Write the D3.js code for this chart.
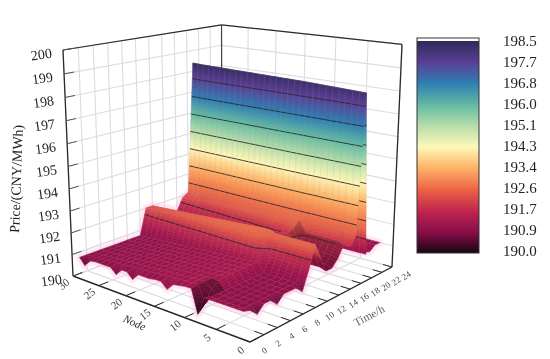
<!DOCTYPE html>
<html>
<head>
<meta charset="utf-8">
<script src="https://cdn.jsdelivr.net/npm/d3@7"></script>
<style>
  html, body { margin: 0; padding: 0; background: #fff; }
  svg { display: block; filter: blur(0.45px); }
  text { font-family: "Liberation Serif", serif; }
</style>
</head>
<body>
<div id="chart"></div>
<script>
const nodes = [1,2,3,4,5,6,7,8,9,10,11,12,13,14,15,16,17,18,19,20,21,22,23,24,25,26,27,28,29,30];
const times = [1,2,3,4,5,6,7,8,9,10,11,12,13,14,15,16,17,18,19,20,21,22,23,24];

// price by hour for each group of nodes, hour 19 comes from wallTop
const pricesEdge  = [190.9,190.8,190.5,190.8,190.8,190.5,190.8,190.8,190.8,190.5,191.3,192.3,191.6,190.9,190.9,191.2,191.7,192.1,198.2,191.0,190.9,190.8,191.0,191.0];
const pricesNear  = [190.8,190.8,190.8,190.8,190.8,190.8,190.8,190.8,190.8,190.8,191.4,192.3,191.7,191.0,191.0,191.3,191.8,192.2,198.2,191.0,191.0,191.0,191.0,191.0];
const pricesNode9 = [190.1,190.4,190.9,191.1,191.2,191.2,191.2,191.2,191.2,191.2,191.8,192.4,192.0,191.9,191.9,192.0,192.3,192.4,198.3,191.0,191.0,191.0,191.0,191.0];
const pricesFar   = [191.15,191.15,191.15,191.15,191.15,191.15,191.15,191.15,191.15,191.15,192.4,192.4,191.7,191.4,191.4,191.7,192.3,192.5,198.4,191.0,191.0,191.0,191.0,191.0];
// the far nodes sit a little lower with distance, node 10 up to node 30
const farOffset = [0,-.02,-.04,-.06,-.08,-.1,-.12,-.14,-.16,-.18,-.2,-.22,-.24,-.26,-.28,-.3,-.32,-.34,-.36,-.38,-.4];
const wallTop = [198.2,198.21,198.22,198.23,198.24,198.25,198.26,198.27,198.28,198.29,198.3,198.3,198.31,198.31,198.32,198.32,198.33,198.33,198.34,198.34,198.35,198.35,198.36,198.36,198.37,198.37,198.38,198.38,198.39,198.4];
// hour 1 row, it has the small dark nicks along the front edge
const frontRow = [190.9,190.9,190.9,190.9,190.9,190.9,190.9,190.9,190.1,191.1,191.1,191.05,191.0,190.7,190.95,190.95,190.9,190.9,190.9,190.6,190.85,190.85,190.55,190.8,190.8,190.8,190.8,190.75,190.45,190.75];

const nodeTicks = [0,5,10,15,20,25,30];
const timeTicks = [0,2,4,6,8,10,12,14,16,18,20,22,24];
const priceTicks = [190,191,192,193,194,195,196,197,198,199,200];
const legendTicks = ["198.5","197.7","196.8","196.0","195.1","194.3","193.4","192.6","191.7","190.9","190.0"];
const legendColors = ["#2e2a5a","#5a3f94","#2f7fb3","#62b9a3","#b6deaa","#fdf8b8","#fdb266","#ef6445","#c0264e","#8a0d48","#1a0616"];
// the surface reads a bit brighter than the bar in its low range
const surfaceLevels = [198.5,197.7,196.8,196.0,195.1,194.3,193.4,192.6,192.1,191.7,191.1,190.8,190.0];
const surfaceColors = ["#2e2a5a","#5a3f94","#2f7fb3","#62b9a3","#b6deaa","#fdf8b8","#fdb266","#f07a4c","#e2604a","#c4304e","#a0154b","#8f1148","#1f0a1e"];
const contourLevels = [191.7,192.55,193.4,194.25,195.1,195.95,196.8,197.65];

const width = 550, height = 359;

const svg = d3.select("#chart").append("svg")
    .attr("width", width)
    .attr("height", height);

const color = d3.scaleLinear().domain(surfaceLevels).range(surfaceColors).clamp(true);

// axis box seen in perspective, worked out from the corners of the box on screen
const nodeScale = d3.scaleLinear().domain([0, 30]).range([0, 1]);
const timeScale = d3.scaleLinear().domain([0, 24]).range([0, 1]);
const priceScale = d3.scaleLinear().domain([190, 200]).range([0, 1]);

const B = [250, 342], A = [73, 276], C = [392, 267], D = [222, 220], Atop = [63, 50];
const det = (A[0]-D[0])*(C[1]-D[1]) - (C[0]-D[0])*(A[1]-D[1]);
const rx = D[0]+B[0]-A[0]-C[0], ry = D[1]+B[1]-A[1]-C[1];
const wa = (rx*(C[1]-D[1]) - (C[0]-D[0])*ry) / det;
const wb = ((A[0]-D[0])*ry - rx*(A[1]-D[1])) / det;
const wc = -0.07;
const basis = [0, 1].map(i => ({
    o: B[i],
    u: A[i]*(1+wa) - B[i],
    v: C[i]*(1+wb) - B[i],
    z: Atop[i]*(1+wa+wc) - A[i]*(1+wa)
}));

const project = (node, time, price) => {
    let u = nodeScale(node), v = timeScale(time), z = priceScale(price);
    let w = 1 + wa*u + wb*v + wc*z;
    return basis.map(b => (b.o + b.u*u + b.v*v + b.z*z) / w);
};

const line3 = (g, p, q, stroke, sw) => {
    let a = project(...p), b = project(...q);
    g.append("line")
        .attr("x1", a[0]).attr("y1", a[1])
        .attr("x2", b[0]).attr("y2", b[1])
        .attr("stroke", stroke)
        .attr("stroke-width", sw);
};

// walls and floor
const grid = svg.append("g");
const gridColor = "#dcdcdc";
timeTicks.forEach(t => {
    line3(grid, [30, t, 190], [30, t, 200], gridColor, 1.1);
    line3(grid, [0, t, 190], [30, t, 190], gridColor, 1.1);
});
nodeTicks.forEach(n => {
    line3(grid, [n, 24, 190], [n, 24, 200], gridColor, 1.1);
    line3(grid, [n, 0, 190], [n, 24, 190], gridColor, 1.1);
});
priceTicks.forEach(p => {
    line3(grid, [30, 0, p], [30, 24, p], gridColor, 1.1);
    line3(grid, [0, 24, p], [30, 24, p], gridColor, 1.1);
});

const axes = svg.append("g");
const axisColor = "#2b2b2b";
line3(axes, [30, 0, 190], [30, 0, 200], axisColor, 1.3);
line3(axes, [30, 24, 190], [30, 24, 200], "#444", 1.2);
line3(axes, [0, 24, 190], [0, 24, 200], axisColor, 1.3);
line3(axes, [30, 0, 200], [30, 24, 200], axisColor, 1.2);
line3(axes, [0, 24, 200], [30, 24, 200], axisColor, 1.2);
line3(axes, [0, 0, 190], [30, 0, 190], axisColor, 1.4);
line3(axes, [0, 0, 190], [0, 24, 190], axisColor, 1.4);
nodeTicks.forEach(n => line3(axes, [n, 0, 190], [n, 1.3, 190], axisColor, 1));
timeTicks.forEach(t => line3(axes, [0, t, 190], [1.4, t, 190], axisColor, 1));
priceTicks.forEach(p => line3(axes, [30, 0, p], [30, 1.3, p], "#555", 1));

// surface values
const profileFor = n => n <= 2 ? pricesEdge : n <= 8 ? pricesNear : n === 9 ? pricesNode9 : pricesFar;
const priceAt = (n, t) => {
    if (t === 1) return frontRow[n-1];
    if (t === 19) return wallTop[n-1];
    if (n >= 10 && t < 19) return pricesFar[t-1] + farOffset[n-10];
    return profileFor(n)[t-1];
};
// node 1 only shows up at the foot and top of the tall wall
const cellShown = (n, t) => n > 1 || (t >= 17 && t <= 19);

const cellPath = (n, t) => {
    let pts = [[n, t], [n+1, t], [n+1, t+1], [n, t+1]].map(d => project(d[0], d[1], priceAt(d[0], d[1])));
    return d3.line()(pts) + "Z";
};

// pink fringe around the low part of the surface
const defs = svg.append("defs");
defs.append("filter").attr("id", "fringe")
    .attr("x", "-10%").attr("y", "-10%").attr("width", "120%").attr("height", "120%")
    .append("feGaussianBlur").attr("stdDeviation", 1.3);
const fringe = svg.append("g").attr("filter", "url(#fringe)").attr("opacity", 0.4);
nodes.slice(0, -1).forEach(n => {
    times.slice(0, -1).forEach(t => {
        let m = (priceAt(n, t) + priceAt(n+1, t) + priceAt(n+1, t+1) + priceAt(n, t+1)) / 4;
        if (m < 193.5 && cellShown(n, t)) {
            fringe.append("path")
                .attr("d", cellPath(n, t))
                .attr("fill", "#ffb6e6")
                .attr("stroke", "#ffb6e6")
                .attr("stroke-width", 7)
                .attr("stroke-linejoin", "round");
        }
    });
});

// surface, far cells first
const surface = svg.append("g");

const drawCell = (n, t) => {
    let p00 = priceAt(n, t), p10 = priceAt(n+1, t), p11 = priceAt(n+1, t+1), p01 = priceAt(n, t+1);
    let bil = (a, b) => p00*(1-a)*(1-b) + p10*a*(1-b) + p11*a*b + p01*(1-a)*b;
    let kn = Math.max(1, Math.ceil(Math.max(Math.abs(p10-p00), Math.abs(p11-p01)) / 0.12));
    let kt = Math.max(1, Math.ceil(Math.max(Math.abs(p01-p00), Math.abs(p11-p10)) / 0.12));
    // the trough on the near nodes and the nick at node 9 are in shadow
    let trough = n <= 8 && t >= 13 && t <= 16;
    let wedge = n >= 8 && n <= 9 && t <= 3;
    let shadow = trough ? 0.7 : wedge ? 1.1 : 0;
    for (let i = kn-1; i >= 0; i--) {
        for (let j = kt-1; j >= 0; j--) {
            let corners = [[i/kn, j/kt], [(i+1)/kn, j/kt], [(i+1)/kn, (j+1)/kt], [i/kn, (j+1)/kt]];
            let pts = corners.map(c => project(n+c[0], t+c[1], bil(c[0], c[1])));
            let fill = d3.color(color(bil((i+.5)/kn, (j+.5)/kt))).darker(shadow).formatHex();
            surface.append("path")
                .attr("d", d3.line()(pts) + "Z")
                .attr("fill", fill)
                .attr("stroke", fill)
                .attr("stroke-width", 0.5);
        }
    }
    // mesh
    surface.append("path")
        .attr("d", cellPath(n, t))
        .attr("fill", "none")
        .attr("stroke", "#c9808f")
        .attr("stroke-opacity", 0.22)
        .attr("stroke-width", 0.6);
    // contour lines crossing this cell
    contourLevels.forEach(level => {
        let edges = [[0,0,1,0,p00,p10],[1,0,1,1,p10,p11],[1,1,0,1,p11,p01],[0,1,0,0,p01,p00]];
        let hits = [];
        edges.forEach(e => {
            if ((e[4] - level) * (e[5] - level) < 0) {
                let f = (level - e[4]) / (e[5] - e[4]);
                hits.push(project(n + e[0] + (e[2]-e[0])*f, t + e[1] + (e[3]-e[1])*f, level));
            }
        });
        if (hits.length >= 2) {
            surface.append("path")
                .attr("d", d3.line()(hits.slice(0, 2)))
                .attr("fill", "none")
                .attr("stroke", "#2a2a2a")
                .attr("stroke-opacity", 0.9)
                .attr("stroke-width", 1);
        }
    });
};

nodes.slice(0, -1).reverse().forEach(n => {
    times.slice(0, -1).reverse().forEach(t => {
        if (cellShown(n, t)) drawCell(n, t);
    });
});

// tick labels
const labels = svg.append("g");
priceTicks.forEach(p => {
    let q = project(30, 0, p);
    labels.append("text")
        .attr("transform", `translate(${q[0]-21},${q[1]+9}) rotate(-8)`)
        .attr("text-anchor", "middle")
        .attr("font-size", 14)
        .attr("fill", "#222")
        .text(p);
});
nodeTicks.forEach(n => {
    let q = project(n, 0, 190);
    labels.append("text")
        .attr("transform", `translate(${q[0]-7},${q[1]+11}) rotate(-38)`)
        .attr("text-anchor", "middle")
        .attr("font-size", 11)
        .attr("fill", "#444")
        .text(n);
});
timeTicks.forEach(t => {
    let q = project(0, t, 190);
    labels.append("text")
        .attr("transform", `translate(${q[0]+16},${q[1]+11}) rotate(-35)`)
        .attr("text-anchor", "middle")
        .attr("font-size", 9)
        .attr("fill", "#444")
        .text(t);
});
labels.append("text")
    .attr("transform", "translate(21,179) rotate(-88)")
    .attr("text-anchor", "middle")
    .attr("font-size", 14)
    .attr("fill", "#222")
    .text("Price/(CNY/MWh)");
labels.append("text")
    .attr("transform", "translate(133,326) rotate(24)")
    .attr("text-anchor", "middle")
    .attr("font-size", 11)
    .attr("font-style", "italic")
    .attr("fill", "#222")
    .text("Node");
labels.append("text")
    .attr("transform", "translate(371,319) rotate(-28)")
    .attr("text-anchor", "middle")
    .attr("font-size", 11.5)
    .attr("fill", "#666")
    .text("Time/h");

// colour bar, ticks evenly spaced
const barX = 417, barW = 62;
const barY = d3.scalePoint().domain(legendTicks).range([41, 251]);
const gradient = defs.append("linearGradient")
    .attr("id", "bar").attr("x1", 0).attr("y1", 0).attr("x2", 0).attr("y2", 1);
legendTicks.forEach((v, i) => {
    gradient.append("stop")
        .attr("offset", i / (legendTicks.length - 1))
        .attr("stop-color", legendColors[i]);
});
svg.append("rect")
    .attr("x", barX).attr("y", barY("198.5"))
    .attr("width", barW).attr("height", 212)
    .attr("fill", "url(#bar)");
svg.append("rect")
    .attr("x", barX).attr("y", 38)
    .attr("width", barW).attr("height", 215)
    .attr("fill", "none")
    .attr("stroke", "#333")
    .attr("stroke-width", 1);
legendTicks.forEach(v => {
    svg.append("text")
        .attr("x", 503)
        .attr("y", barY(v) + 5)
        .attr("font-size", 15)
        .attr("fill", "#222")
        .text(v);
});
</script>
</body>
</html>
